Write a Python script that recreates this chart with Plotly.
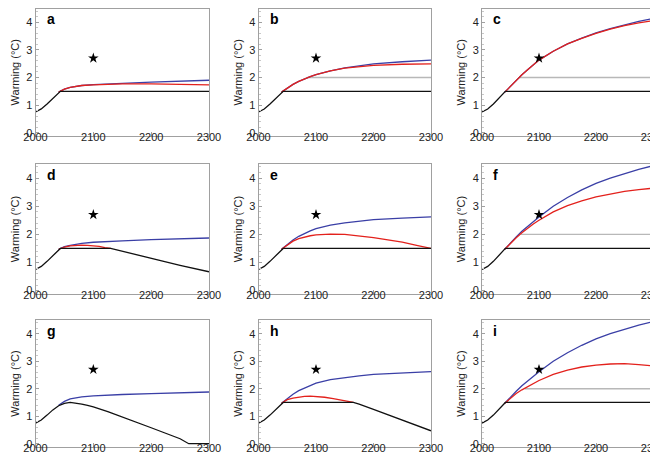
import plotly.graph_objects as go

# ---------------- data ----------------
panel_labels = ["a", "b", "c", "d", "e", "f", "g", "h", "i"]
x_ticks = [2000, 2100, 2200, 2300]
y_ticks = [0, 1, 2, 3, 4]
star_year = 2100
star_value = 2.7

hist_years = [2000, 2005, 2010, 2020, 2030, 2040]
hist_vals = [0.75, 0.80, 0.86, 1.04, 1.25, 1.47]

# panel a
a_blue_years = [2040, 2045, 2050, 2060, 2070, 2080, 2100, 2125, 2150, 2200, 2250, 2300]
a_blue_vals = [1.47, 1.53, 1.58, 1.64, 1.68, 1.71, 1.74, 1.77, 1.79, 1.83, 1.87, 1.90]
a_red_years = [2040, 2045, 2050, 2060, 2070, 2080, 2100, 2125, 2150, 2200, 2250, 2300]
a_red_vals = [1.47, 1.53, 1.58, 1.64, 1.68, 1.71, 1.73, 1.76, 1.77, 1.77, 1.75, 1.73]
a_black_years = hist_years + [2043, 2300]
a_black_vals = hist_vals + [1.5, 1.5]
a_gray_years = []
a_gray_vals = []

# panel b
b_blue_years = [2040, 2050, 2060, 2070, 2080, 2090, 2100, 2125, 2150, 2175, 2200, 2250, 2300]
b_blue_vals = [1.47, 1.62, 1.75, 1.86, 1.95, 2.03, 2.10, 2.24, 2.35, 2.43, 2.49, 2.57, 2.63]
b_red_years = [2040, 2050, 2060, 2070, 2080, 2090, 2100, 2125, 2150, 2175, 2200, 2250, 2300]
b_red_vals = [1.47, 1.62, 1.75, 1.86, 1.95, 2.03, 2.10, 2.24, 2.34, 2.40, 2.44, 2.48, 2.49]
b_black_years = hist_years + [2043, 2300]
b_black_vals = hist_vals + [1.5, 1.5]
b_gray_years = [2085, 2300]
b_gray_vals = [2.0, 2.0]

# panel c
c_blue_years = [2040, 2050, 2060, 2070, 2080, 2090, 2100, 2125, 2150, 2175, 2200, 2225, 2250, 2275, 2300]
c_blue_vals = [1.47, 1.68, 1.90, 2.10, 2.28, 2.46, 2.63, 2.95, 3.22, 3.43, 3.62, 3.77, 3.91, 4.03, 4.14]
c_red_years = [2040, 2050, 2060, 2070, 2080, 2090, 2100, 2125, 2150, 2175, 2200, 2225, 2250, 2275, 2300]
c_red_vals = [1.47, 1.68, 1.90, 2.10, 2.28, 2.46, 2.63, 2.95, 3.22, 3.42, 3.60, 3.75, 3.88, 3.98, 4.06]
c_black_years = hist_years + [2041, 2300]
c_black_vals = hist_vals + [1.5, 1.5]
c_gray_years = [2065, 2300]
c_gray_vals = [2.0, 2.0]

# panel d
d_blue_years = [2040, 2045, 2050, 2060, 2070, 2080, 2100, 2125, 2150, 2200, 2250, 2300]
d_blue_vals = [1.47, 1.52, 1.56, 1.61, 1.65, 1.68, 1.72, 1.75, 1.77, 1.81, 1.84, 1.87]
d_red_years = [2040, 2045, 2050, 2060, 2070, 2080, 2090, 2100, 2110, 2120, 2130]
d_red_vals = [1.47, 1.52, 1.55, 1.59, 1.61, 1.62, 1.61, 1.60, 1.57, 1.53, 1.50]
d_black_years = hist_years + [2043, 2130, 2150, 2200, 2250, 2300]
d_black_vals = hist_vals + [1.5, 1.5, 1.40, 1.13, 0.90, 0.67]
d_gray_years = []
d_gray_vals = []

# panel e
e_blue_years = [2040, 2050, 2060, 2070, 2080, 2090, 2100, 2125, 2150, 2175, 2200, 2250, 2300]
e_blue_vals = [1.47, 1.65, 1.80, 1.93, 2.03, 2.12, 2.20, 2.33, 2.41, 2.47, 2.52, 2.58, 2.62]
e_red_years = [2040, 2050, 2060, 2070, 2080, 2090, 2100, 2125, 2150, 2175, 2200, 2225, 2250, 2275, 2300]
e_red_vals = [1.47, 1.63, 1.76, 1.85, 1.91, 1.95, 1.98, 2.01, 2.00, 1.95, 1.88, 1.80, 1.72, 1.61, 1.50]
e_black_years = hist_years + [2043, 2300]
e_black_vals = hist_vals + [1.5, 1.5]
e_gray_years = []
e_gray_vals = []

# panel f
f_blue_years = [2040, 2050, 2060, 2070, 2080, 2090, 2100, 2125, 2150, 2175, 2200, 2225, 2250, 2275, 2300]
f_blue_vals = [1.47, 1.70, 1.91, 2.11, 2.29, 2.46, 2.62, 3.00, 3.31, 3.58, 3.81, 4.00, 4.16, 4.31, 4.44]
f_red_years = [2040, 2050, 2060, 2070, 2080, 2090, 2100, 2125, 2150, 2175, 2200, 2225, 2250, 2275, 2300]
f_red_vals = [1.47, 1.68, 1.88, 2.06, 2.22, 2.37, 2.50, 2.80, 3.02, 3.19, 3.33, 3.44, 3.53, 3.59, 3.64]
f_black_years = hist_years + [2041, 2300]
f_black_vals = hist_vals + [1.5, 1.5]
f_gray_years = [2068, 2300]
f_gray_vals = [2.0, 2.0]

# panel g
g_blue_years = [2040, 2050, 2060, 2070, 2080, 2100, 2125, 2150, 2200, 2250, 2300]
g_blue_vals = [1.40, 1.54, 1.63, 1.67, 1.70, 1.74, 1.77, 1.79, 1.82, 1.85, 1.88]
g_red_years = []
g_red_vals = []
g_black_years = [2000, 2005, 2010, 2020, 2030, 2040, 2050, 2060, 2070, 2080, 2090, 2100,
                 2125, 2150, 2175, 2200, 2225, 2250, 2265, 2300]
g_black_vals = [0.75, 0.80, 0.86, 1.04, 1.23, 1.38, 1.47, 1.50, 1.48, 1.44, 1.39, 1.34,
                1.17, 0.98, 0.78, 0.58, 0.38, 0.18, 0.0, 0.0]
g_gray_years = []
g_gray_vals = []

# panel h
h_blue_years = [2040, 2050, 2060, 2070, 2080, 2090, 2100, 2125, 2150, 2175, 2200, 2250, 2300]
h_blue_vals = [1.47, 1.65, 1.80, 1.93, 2.03, 2.12, 2.20, 2.33, 2.41, 2.47, 2.52, 2.58, 2.62]
h_red_years = [2040, 2050, 2060, 2070, 2080, 2090, 2100, 2115, 2130, 2150, 2165]
h_red_vals = [1.47, 1.60, 1.66, 1.70, 1.72, 1.73, 1.72, 1.69, 1.64, 1.57, 1.50]
h_black_years = hist_years + [2043, 2165, 2175, 2200, 2250, 2300]
h_black_vals = hist_vals + [1.5, 1.5, 1.44, 1.25, 0.87, 0.47]
h_gray_years = []
h_gray_vals = []

# panel i
i_blue_years = [2040, 2050, 2060, 2070, 2080, 2090, 2100, 2125, 2150, 2175, 2200, 2225, 2250, 2275, 2300]
i_blue_vals = [1.47, 1.70, 1.91, 2.11, 2.29, 2.46, 2.62, 3.00, 3.31, 3.58, 3.81, 4.00, 4.16, 4.31, 4.44]
i_red_years = [2040, 2050, 2060, 2070, 2080, 2090, 2100, 2125, 2150, 2175, 2200, 2225, 2250, 2275, 2300]
i_red_vals = [1.47, 1.66, 1.83, 1.96, 2.08, 2.19, 2.30, 2.52, 2.68, 2.79, 2.86, 2.90, 2.91, 2.88, 2.83]
i_black_years = hist_years + [2041, 2300]
i_black_vals = hist_vals + [1.5, 1.5]
i_gray_years = [2075, 2300]
i_gray_vals = [2.0, 2.0]

panels = [
    (a_blue_years, a_blue_vals, a_red_years, a_red_vals, a_black_years, a_black_vals, a_gray_years, a_gray_vals),
    (b_blue_years, b_blue_vals, b_red_years, b_red_vals, b_black_years, b_black_vals, b_gray_years, b_gray_vals),
    (c_blue_years, c_blue_vals, c_red_years, c_red_vals, c_black_years, c_black_vals, c_gray_years, c_gray_vals),
    (d_blue_years, d_blue_vals, d_red_years, d_red_vals, d_black_years, d_black_vals, d_gray_years, d_gray_vals),
    (e_blue_years, e_blue_vals, e_red_years, e_red_vals, e_black_years, e_black_vals, e_gray_years, e_gray_vals),
    (f_blue_years, f_blue_vals, f_red_years, f_red_vals, f_black_years, f_black_vals, f_gray_years, f_gray_vals),
    (g_blue_years, g_blue_vals, g_red_years, g_red_vals, g_black_years, g_black_vals, g_gray_years, g_gray_vals),
    (h_blue_years, h_blue_vals, h_red_years, h_red_vals, h_black_years, h_black_vals, h_gray_years, h_gray_vals),
    (i_blue_years, i_blue_vals, i_red_years, i_red_vals, i_black_years, i_black_vals, i_gray_years, i_gray_vals),
]

# ---------------- layout ----------------
W, H = 658, 453
col_px = [(27.5, 201), (250.5, 423), (474, 645)]
row_px = [(0.5, 128), (156, 286), (312, 439)]  # top, bottom in pixels

BLUE = "#3a3fa6"
RED = "#e3211c"
BLACK = "#111111"
GRAY = "#b8b8b8"
FRAME = "#a0a0a0"
FONT = "Liberation Sans, Arial, Helvetica, sans-serif"

fig = go.Figure()
layout = dict(
    width=W, height=H,
    margin=dict(l=0, r=0, t=0, b=0, autoexpand=False),
    paper_bgcolor="white", plot_bgcolor="white",
    showlegend=False,
    font=dict(family=FONT, size=11, color="#222"),
    annotations=[],
)

for k, (by, bv, ry, rv, ky, kv, gy, gv) in enumerate(panels):
    r, c = divmod(k, 3)
    n = k + 1
    xa = "x" if n == 1 else f"x{n}"
    ya = "y" if n == 1 else f"y{n}"
    common = dict(xaxis=xa, yaxis=ya, mode="lines", hoverinfo="skip")
    if gy:
        fig.add_trace(go.Scatter(x=gy, y=gv, line=dict(color=GRAY, width=1.4), **common))
    fig.add_trace(go.Scatter(x=by, y=bv, line=dict(color=BLUE, width=1.3), **common))
    if ry:
        fig.add_trace(go.Scatter(x=ry, y=rv, line=dict(color=RED, width=1.3), **common))
    fig.add_trace(go.Scatter(x=ky, y=kv, line=dict(color=BLACK, width=1.3), **common))
    fig.add_trace(go.Scatter(x=[star_year], y=[star_value], xaxis=xa, yaxis=ya, mode="markers",
                             marker=dict(symbol="star", size=8, color="black"), hoverinfo="skip"))

    x0, x1 = col_px[c]
    t, b = row_px[r]
    xkey = "xaxis" if n == 1 else f"xaxis{n}"
    ykey = "yaxis" if n == 1 else f"yaxis{n}"
    layout[xkey] = dict(
        domain=[x0 / W, x1 / W], anchor=ya, range=[2000, 2300], automargin=False,
        tickvals=x_ticks, ticks="inside", ticklen=4, tickcolor=FRAME,
        ticklabelstandoff=-9, ticklabeloverflow="allow",
        showline=True, linecolor=FRAME, linewidth=1, mirror=True,
        showgrid=False, zeroline=False, tickfont=dict(size=11, color="#222"),
    )
    layout[ykey] = dict(
        domain=[1 - b / H, 1 - t / H], anchor=xa, range=[-0.12, 4.5], automargin=False,
        tickvals=y_ticks, ticks="inside", ticklen=3, tickcolor=FRAME,
        ticklabeloverflow="allow",
        minor=dict(dtick=0.2, tick0=0, ticks="inside", ticklen=2, tickcolor="#c8c8c8"),
        showline=True, linecolor=FRAME, linewidth=1, mirror=True,
        showgrid=False, zeroline=False, tickfont=dict(size=11, color="#222"),
        title=dict(text="Warming (°C)", font=dict(size=11, color="#222"), standoff=4),
    )
    layout["annotations"].append(dict(
        text=f"<b>{panel_labels[k]}</b>", xref=f"{xa} domain", yref=f"{ya} domain",
        x=0.055, y=0.915, xanchor="left", yanchor="middle", showarrow=False,
        font=dict(size=14, color="black", family=FONT),
    ))

fig.update_layout(**layout)
fig.write_html("out.html")
